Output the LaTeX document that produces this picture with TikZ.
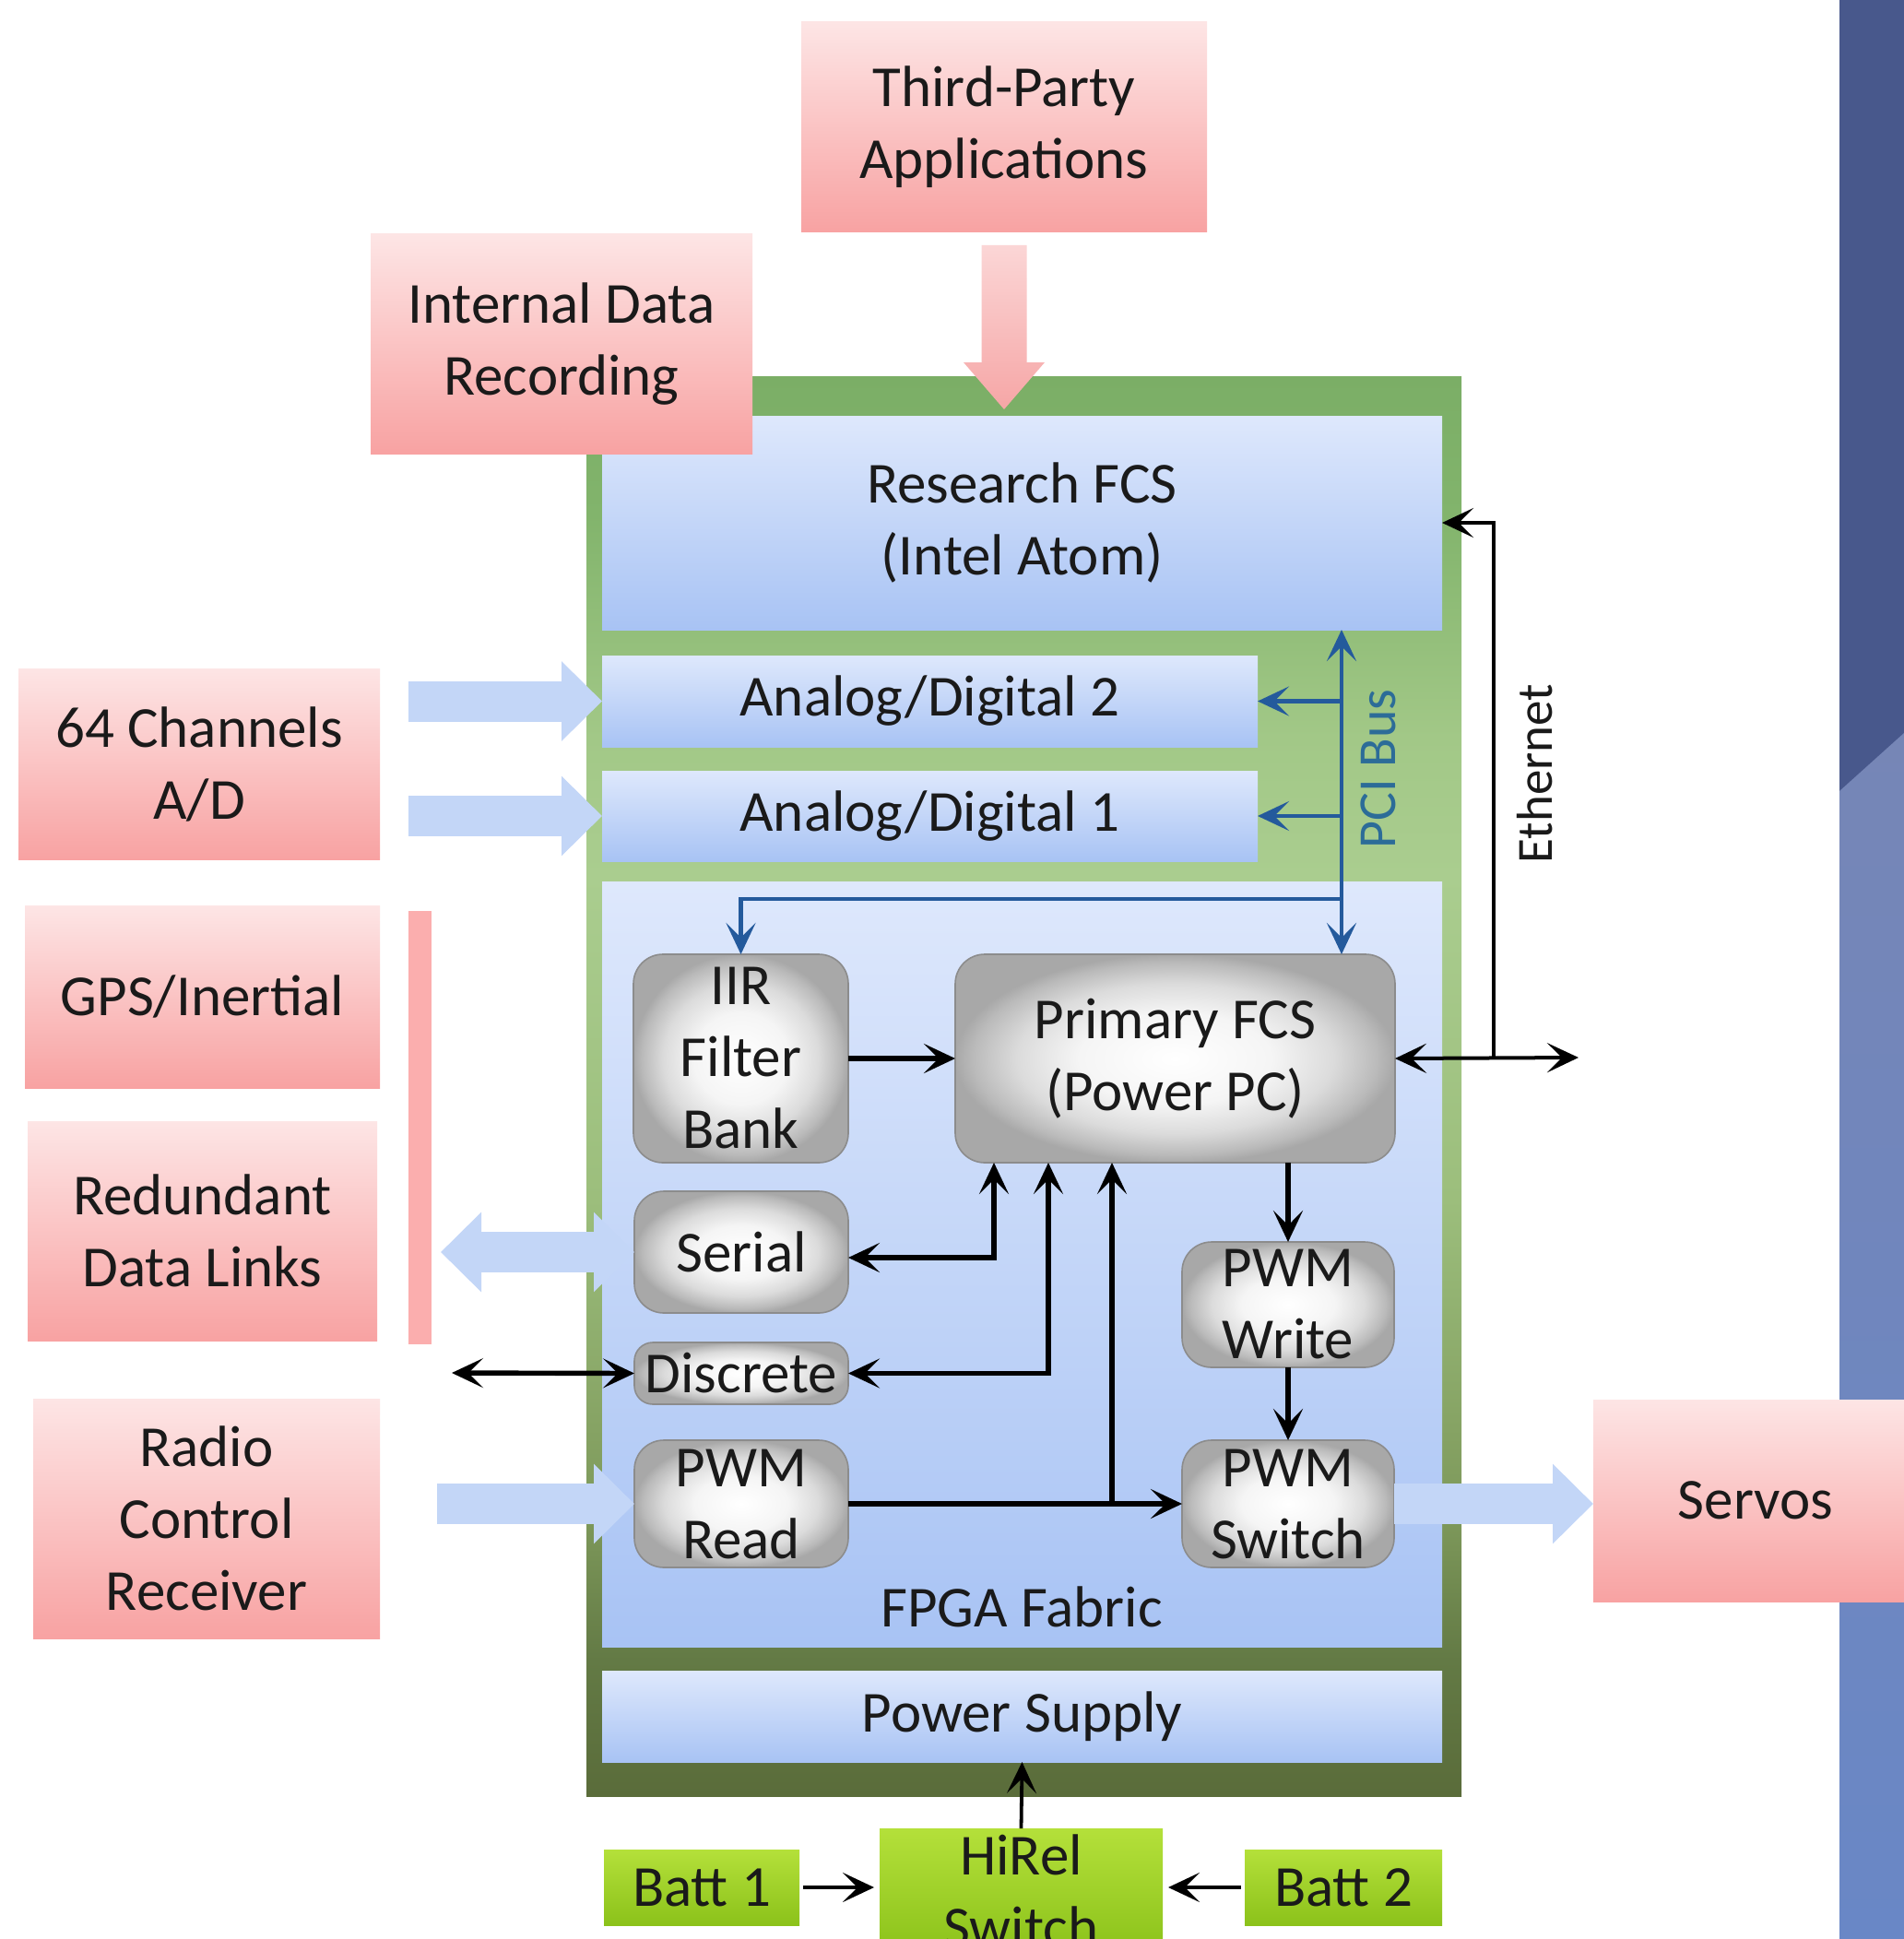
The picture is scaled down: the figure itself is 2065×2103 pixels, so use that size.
\documentclass[tikz,border=0pt]{standalone}
\usepackage{fontspec}
\setmainfont{Carlito}
\usetikzlibrary{arrows.meta,calc}
\definecolor{txt}{HTML}{1A1A1A}
\definecolor{pinkT}{HTML}{FDE5E5}
\definecolor{pinkB}{HTML}{F8A2A2}
\definecolor{pinkAT}{HTML}{FBD6D6}
\definecolor{pinkAB}{HTML}{F6A6A6}
\definecolor{pinkbar}{HTML}{FBAEAE}
\definecolor{blueT}{HTML}{DEE8FC}
\definecolor{blueB}{HTML}{A8C3F4}
\definecolor{grnT}{HTML}{B4E03A}
\definecolor{grnB}{HTML}{8BC21A}
\definecolor{fatblue}{HTML}{C3D6F7}
\definecolor{pciblue}{HTML}{245A9C}
\definecolor{pcitext}{HTML}{2C6C98}
\definecolor{grayedge}{HTML}{8C8C8C}
\definecolor{stripD}{HTML}{48588C}
\definecolor{stripLT}{HTML}{7686B6}
\definecolor{stripLB}{HTML}{6987C6}
\definecolor{gT}{HTML}{7BAE66}
\definecolor{gN}{HTML}{82B46C}
\definecolor{gM}{HTML}{A2C887}
\definecolor{gL}{HTML}{AACD8F}
\definecolor{gE}{HTML}{9CBE7C}
\definecolor{gC}{HTML}{7D985A}
\definecolor{gD}{HTML}{637A45}
\definecolor{gB}{HTML}{5A6C3A}
\pgfdeclareverticalshading{gframe}{100bp}{color(0bp)=(gB); color(25bp)=(gB); color(29.8bp)=(gD); color(34.7bp)=(gC); color(46bp)=(gE); color(57.4bp)=(gL); color(62.3bp)=(gM); color(70.1bp)=(gN); color(75bp)=(gT); color(100bp)=(gT)}
\pgfdeclareradialshading{grayball}{\pgfpoint{0bp}{0bp}}{color(0bp)=(white); color(11bp)=(white!96!black); color(18bp)=(black!14); color(23bp)=(black!27); color(25bp)=(black!34); color(50bp)=(black!34)}
\newcommand\fs{\fontsize{31.5}{39}\selectfont}
% box by its corners (in pixel units): style, name, x1, y1, x2, y2, text
\newcommand\bx[7]{\node[#1, minimum width={((#5)-(#3))*0.5pt}, minimum height={((#6)-(#4))*0.5pt}] (#2) at ({((#3)+(#5))/2},{((#4)+(#6))/2}) {#7};}
\begin{document}
\begin{tikzpicture}[x=0.5pt,y=-0.5pt,
  >={Stealth[length=17pt,width=16pt,inset=8pt]},
  box/.style={inner sep=0pt, outer sep=0pt, align=center, font=\fs, text=txt},
  pinkbox/.style={box, top color=pinkT, bottom color=pinkB},
  bluebox/.style={box, top color=blueT, bottom color=blueB},
  graybox/.style={box, shade, shading=grayball, rounded corners=16pt, draw=grayedge, line width=0.8pt},
  greenbox/.style={box, top color=grnT, bottom color=grnB},
  arr/.style={line width=2.7pt, ->},
  darr/.style={line width=2.7pt, <->},
  thin arr/.style={line width=1.9pt, ->},
  pci/.style={line width=2.3pt, draw=pciblue},
  fat/.style={draw=fatblue, line width=22pt, -{Triangle[length=22pt,width=42pt]}},
  fatd/.style={draw=fatblue, line width=22pt, {Triangle[length=22pt,width=42pt]}-{Triangle[length=22pt,width=42pt]}},
]
\useasboundingbox (0,0) rectangle (2065,2103);
\clip (0,0) rectangle (2065,2103);
\fill[white] (0,0) rectangle (2065,2103);

% right background strip
\fill[stripD] (1995,-5) rectangle (2075,2110);
\shade[top color=stripLT, bottom color=stripLB] (1995,858) -- (2075,786) -- (2075,2110) -- (1995,2110) -- cycle;

% green frame and its blocks
\bx{box, shade, shading=gframe}{frame}{636}{408}{1585}{1948}{}
\bx{bluebox}{fcs}{653}{451}{1564}{683}{Research FCS\\(Intel Atom)}
\bx{bluebox}{ad2}{653}{711}{1364}{810}{Analog/Digital 2}
\bx{bluebox}{ad1}{653}{836}{1364}{934}{Analog/Digital 1}
\bx{bluebox}{fpga}{653}{956}{1564}{1786}{}
\node[box] (fpgalabel) at (1108,1743) {FPGA Fabric};
\bx{bluebox}{power}{653}{1812}{1564}{1911}{Power Supply}

% FPGA blocks
\bx{graybox}{iir}{687}{1035}{920}{1261}{IIR\\Filter\\Bank}
\bx{graybox}{pfcs}{1036}{1035}{1513}{1261}{Primary FCS\\(Power PC)}
\bx{graybox}{serial}{688}{1292}{920}{1424}{Serial}
\bx{graybox, rounded corners=10pt}{discrete}{688}{1456}{920}{1523}{Discrete}
\bx{graybox}{pwmread}{688}{1562}{920}{1700}{PWM\\Read}
\bx{graybox}{pwmwrite}{1282}{1347}{1512}{1483}{PWM\\Write}
\bx{graybox}{pwmswitch}{1282}{1562}{1512}{1700}{PWM\\Switch}

% PCI bus
\coordinate (pcix) at (1455,800);
\coordinate (pcibr) at (1455,975);
\draw[pci, <->] (pcix |- fcs.south) -- (pcix |- pfcs.north);
\draw[pci, ->] (pcix |- ad2.east) -- (ad2.east);
\draw[pci, ->] (pcix |- ad1.east) -- (ad1.east);
\draw[pci, ->] (pcibr) -| (iir.north);
\node[font=\fontsize{29}{34}\selectfont, text=pcitext, rotate=90] (pcilabel) at (1495,834) {PCI Bus};

% black connectors
\draw[arr] (iir.east) -- (pfcs.west);
\coordinate (ethR) at (1712,1147);
\coordinate (ethJ) at (1620,1147);
\draw[line width=2pt, <->] (pfcs.east) -- (ethR);
\draw[line width=2pt, ->] (ethJ) |- (fcs.east);
\node[font=\fontsize{27.5}{33}\selectfont, text=txt, rotate=90] (ethlabel) at (1665,839) {Ethernet};
\draw[darr] ($(serial.east)+(0,6)$) -| ($(pfcs.south west)+(42,0)$);
\draw[darr] (discrete.east) -| ($(pfcs.south west)+(101,0)$);
\draw[arr] (pwmread.east) -- (pwmswitch.west);
\coordinate (j1) at (1206,1631);
\draw[arr] (j1) -- (j1 |- pfcs.south);
\draw[arr] (pwmwrite.north |- pfcs.south) -- (pwmwrite.north);
\draw[arr] (pwmwrite.south) -- (pwmswitch.north);
\coordinate (discL) at (490,1489);
\draw[darr] (discL) -- (discrete.west);

% outside pink boxes
\bx{pinkbox}{thirdparty}{869}{24}{1309}{252}{Third-Party\\Applications}
\bx{pinkbox}{idr}{402}{254}{816}{492}{Internal Data\\Recording}
\bx{pinkbox}{ch64}{20}{725}{412}{932}{64 Channels\\A/D}
\bx{pinkbox}{gps}{27}{982}{412}{1180}{GPS/Inertial}
\bx{pinkbox}{rdl}{30}{1216}{409}{1454}{Redundant\\Data Links}
\bx{box, fill=pinkbar}{bar}{443}{988}{468}{1458}{}
\bx{pinkbox}{rcr}{36}{1517}{412}{1777}{Radio\\Control\\Receiver}
\bx{pinkbox}{servos}{1728}{1518}{2080}{1737}{Servos}

% pink input arrow
\shade[top color=pinkAT, bottom color=pinkAB] let \p1=(thirdparty.south), \p2=(fcs.north) in
  (\x1-12.25pt,\y1-7pt) -- (\x1+12.25pt,\y1-7pt) -- (\x1+12.25pt,\y2+29pt) -- (\x1+22pt,\y2+29pt)
  -- (\x1,\y2+3.5pt) -- (\x1-22pt,\y2+29pt) -- (\x1-12.25pt,\y2+29pt) -- cycle;

% light blue wide arrows
\draw[fat] ($(ch64.east |- ad2.west)+(31,0)$) -- (ad2.west);
\draw[fat] ($(ch64.east |- ad1.west)+(31,0)$) -- (ad1.west);
\draw[fatd] ($(rdl.east |- serial.west)+(69,0)$) -- (serial.west);
\draw[fat] ($(rcr.east |- pwmread.west)+(62,0)$) -- (pwmread.west);
\draw[fat] (pwmswitch.east) -- (servos.west |- pwmswitch.east);

% power
\bx{greenbox}{hirel}{954}{1983}{1261}{2119}{HiRel\\Switch}
\bx{greenbox}{batt1}{655}{2006}{867}{2088}{Batt 1}
\bx{greenbox}{batt2}{1350}{2006}{1564}{2088}{Batt 2}
\draw[thin arr] ([xshift=2pt]batt1.east) -- ([xshift=-3pt]hirel.west |- batt1.east);
\draw[thin arr] ([xshift=-2pt]batt2.west) -- ([xshift=3pt]hirel.east |- batt2.west);
\draw[thin arr] (hirel.north) -- (power.south);
\end{tikzpicture}
\end{document}
